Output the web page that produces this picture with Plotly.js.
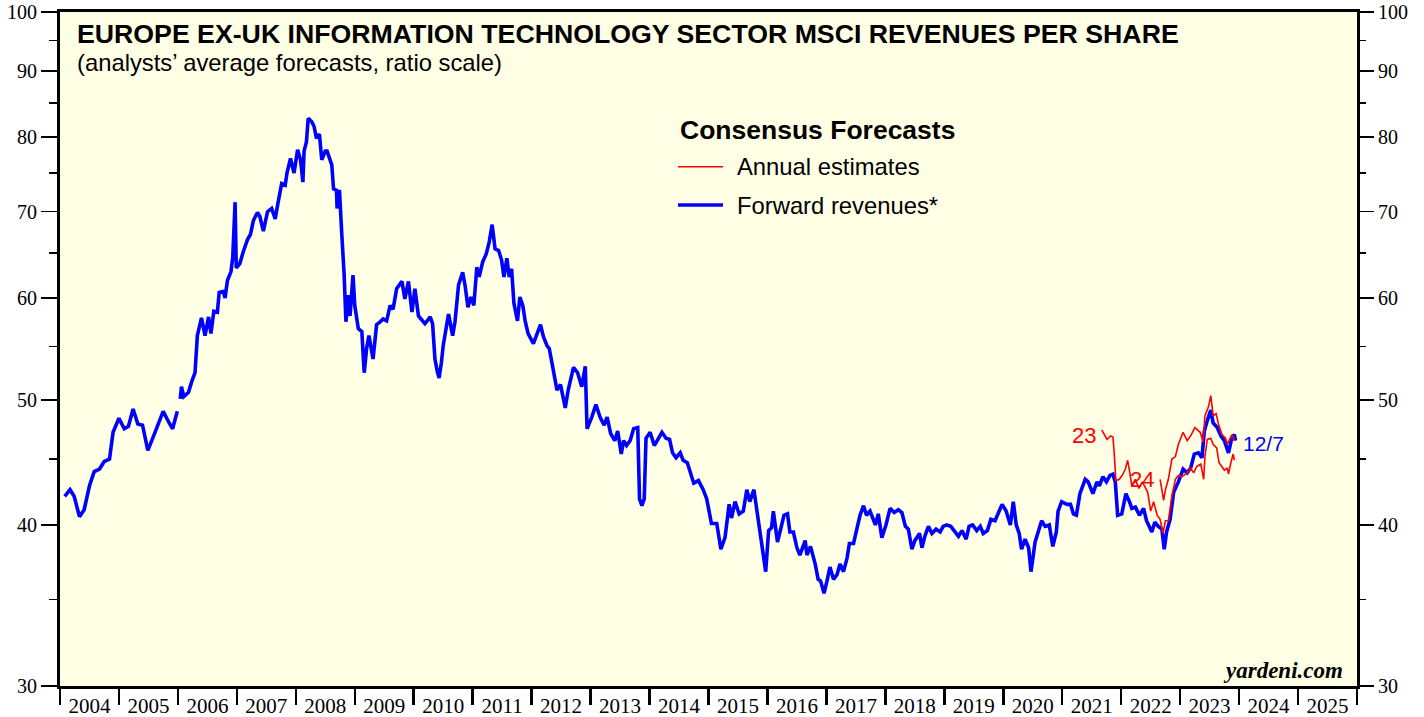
<!DOCTYPE html>
<html>
<head>
<meta charset="utf-8">
<script src="https://cdn.plot.ly/plotly-3.0.1.min.js"></script>
<style>
html,body{margin:0;padding:0;background:#fff;}
#chart{width:1424px;height:717px;}
</style>
</head>
<body>
<div id="chart"></div>
<script>
// ---- Data (decimal years, revenues per share) ----
var yearLabels = ['2004','2005','2006','2007','2008','2009','2010','2011','2012','2013','2014','2015','2016','2017','2018','2019','2020','2021','2022','2023','2024','2025'];
var yTickVals = [30,40,50,60,70,80,90,100];
var yMinorVals = [35,45,55,65,75,85,95];

var fwdYears = [
2004.08,2004.17,2004.24,2004.33,2004.41,2004.50,2004.58,2004.67,2004.75,2004.84,2004.90,
2005.00,2005.09,2005.16,2005.24,2005.32,2005.40,2005.49,2005.58,2005.75,2005.84,2005.91,2005.99,2006.01,
2006.04,2006.06,2006.10,2006.18,2006.23,2006.29,2006.33,2006.40,2006.46,2006.52,2006.56,2006.61,2006.67,2006.70,2006.77,2006.80,2006.84,2006.90,2006.93,2006.97,2006.99,
2007.05,2007.11,2007.18,2007.23,2007.28,2007.35,2007.39,2007.45,2007.52,2007.59,2007.65,2007.70,2007.76,2007.82,2007.85,2007.91,2007.97,
2008.03,2008.08,2008.12,2008.14,2008.18,2008.21,2008.27,2008.31,2008.35,2008.40,2008.44,2008.50,2008.53,2008.61,2008.64,2008.69,2008.70,2008.74,2008.78,2008.82,2008.85,2008.89,2008.92,2008.97,
2009.00,2009.06,2009.12,2009.16,2009.20,2009.24,2009.31,2009.37,2009.43,2009.48,2009.54,2009.60,2009.65,2009.71,2009.80,2009.85,2009.91,2009.97,
2010.02,2010.08,2010.19,2010.28,2010.32,2010.36,2010.40,2010.43,2010.47,2010.50,2010.59,2010.66,2010.70,2010.76,2010.83,2010.87,2010.92,2010.97,
2011.02,2011.07,2011.11,2011.17,2011.23,2011.28,2011.33,2011.38,2011.44,2011.49,2011.53,2011.58,2011.62,2011.66,2011.70,2011.76,2011.80,2011.85,2011.89,2011.94,
2012.03,2012.09,2012.15,2012.20,2012.26,2012.30,2012.37,2012.43,2012.49,2012.57,2012.62,2012.71,2012.78,2012.85,2012.91,2012.94,
2013.02,2013.09,2013.16,2013.23,2013.28,2013.34,2013.41,2013.46,2013.52,2013.56,2013.61,2013.67,2013.73,2013.80,2013.83,2013.87,2013.91,2013.94,
2014.01,2014.08,2014.13,2014.21,2014.28,2014.34,2014.39,2014.45,2014.52,2014.57,2014.64,2014.69,2014.75,2014.83,2014.91,2014.97,
2015.05,2015.14,2015.21,2015.28,2015.35,2015.39,2015.45,2015.52,2015.59,2015.65,2015.70,2015.77,2015.86,2015.92,2015.97,
2016.02,2016.07,2016.10,2016.17,2016.23,2016.28,2016.34,2016.38,2016.44,2016.50,2016.55,2016.64,2016.67,2016.73,2016.81,2016.86,2016.90,2016.96,
2017.01,2017.06,2017.12,2017.18,2017.23,2017.29,2017.35,2017.39,2017.46,2017.51,2017.57,2017.63,2017.68,2017.74,2017.83,2017.88,2017.94,
2018.01,2018.08,2018.15,2018.22,2018.28,2018.34,2018.39,2018.45,2018.50,2018.58,2018.62,2018.67,2018.73,2018.79,2018.86,2018.93,2018.98,
2019.04,2019.11,2019.17,2019.24,2019.30,2019.37,2019.42,2019.48,2019.55,2019.61,2019.66,2019.73,2019.79,2019.86,2019.92,2019.98,
2020.05,2020.12,2020.17,2020.22,2020.27,2020.31,2020.37,2020.43,2020.47,2020.54,2020.60,2020.65,2020.71,2020.78,2020.84,2020.90,2020.93,2020.99,
2021.08,2021.14,2021.19,2021.24,2021.30,2021.39,2021.44,2021.52,2021.59,2021.63,2021.69,2021.75,2021.81,2021.86,2021.90,2021.94,
2022.01,2022.08,2022.14,2022.18,2022.24,2022.31,2022.38,2022.43,2022.52,2022.57,2022.63,2022.69,2022.73,2022.77,2022.83,2022.89,2022.97,
2023.05,2023.12,2023.18,2023.24,2023.31,2023.37,2023.41,2023.46,2023.52,2023.56,2023.63,2023.69,2023.75,2023.82,2023.88,2023.92,2023.94
];
var fwdValues = [
42.1,42.6,42.1,40.6,41.1,42.9,44.0,44.2,44.8,45.0,47.2,
48.4,47.5,47.7,49.2,47.9,47.8,45.7,46.8,49.0,48.1,47.5,49.0,null,
50.1,51.2,50.3,50.7,51.6,52.5,56.1,57.9,56.1,58.0,56.3,58.6,58.5,60.6,60.7,60.0,61.9,62.9,64.5,71.2,63.3,
63.8,65.2,66.6,67.2,68.9,69.9,69.4,67.6,70.0,70.4,69.1,71.2,73.6,73.4,75.0,77.0,75.0,
78.2,76.8,73.8,78.0,79.3,82.7,82.2,81.5,79.8,80.4,76.8,78.0,78.0,76.1,72.9,72.7,70.4,72.8,67.2,62.5,57.5,60.3,58.1,62.5,
59.2,56.8,56.5,52.5,54.8,56.1,53.8,57.2,57.5,57.8,57.6,59.2,58.8,61.0,61.8,59.9,61.8,58.5,
61.0,58.1,57.3,58.0,57.3,53.8,52.6,52.0,53.5,55.1,58.3,56.1,57.5,61.4,62.8,61.4,59.0,60.1,
59.2,63.4,62.3,64.0,64.9,66.3,68.4,65.5,65.3,64.2,62.3,64.4,62.3,63.2,59.4,57.6,60.1,59.2,57.6,56.3,
55.3,56.3,57.2,56.0,55.1,54.8,52.6,50.9,51.4,49.3,50.9,53.0,52.5,51.2,53.1,47.5,
48.5,49.6,48.5,47.8,48.5,47.1,46.5,47.3,45.4,46.5,46.1,46.5,47.5,47.6,41.9,41.4,41.9,46.7,
47.2,46.1,46.5,47.2,46.7,46.6,45.5,45.1,45.5,44.9,44.7,43.9,43.1,43.3,42.6,41.9,
40.1,40.1,38.3,39.1,41.5,40.5,41.7,40.8,41.0,42.6,41.7,42.6,39.8,38.3,36.8,
39.6,39.8,41.0,38.8,39.8,40.7,40.8,39.5,39.5,38.4,37.9,38.9,37.9,38.5,37.3,36.3,36.2,35.4,
36.2,37.1,36.3,36.6,37.3,36.8,37.7,38.7,38.7,39.6,40.7,41.4,40.7,41.0,40.0,40.8,39.1,
40.0,41.2,40.9,41.1,40.9,39.9,39.7,38.3,38.9,39.4,38.4,39.2,39.9,39.4,39.7,39.5,39.9,
40.0,39.9,39.6,39.2,39.6,39.0,39.9,40.0,39.6,39.9,39.4,39.6,40.4,40.3,40.9,41.5,
41.0,40.0,41.7,40.0,39.4,38.3,39.0,38.4,36.8,38.8,39.6,40.3,39.9,40.0,38.5,39.5,41.0,41.7,
41.5,41.5,40.8,40.7,42.3,43.4,43.2,42.3,43.2,42.9,43.6,43.2,43.7,43.8,43.2,40.7,
40.8,42.3,41.7,41.2,41.3,40.7,41.2,40.3,39.5,40.2,39.9,39.7,38.3,39.5,40.4,42.4,43.2,
44.2,43.9,44.3,45.4,45.5,45.1,47.3,48.2,49.1,48.0,47.6,46.9,46.5,45.5,46.8,47.0,46.5
];

var est23Years = [2021.67,2021.71,2021.76,2021.82,2021.86,2021.88,2021.91,2021.97,2022.03,2022.07,2022.11,2022.15,2022.18,2022.24,2022.30,2022.36,2022.42,2022.45,2022.50,2022.55,2022.61,2022.66,2022.71,2022.75,2022.80,2022.86,2022.92,2022.97,2023.03,2023.12,2023.17,2023.23,2023.28,2023.35,2023.40,2023.42,2023.46,2023.52,2023.56,2023.62,2023.66,2023.75,2023.80,2023.82,2023.86,2023.90,2023.92];
var est23Values = [47.4,47.0,46.6,46.9,46.8,45.6,43.3,43.4,43.8,44.2,44.9,43.8,42.9,43.4,42.7,43.2,42.7,42.4,41.0,41.7,40.7,40.4,39.4,40.3,40.3,42.1,43.4,43.7,43.6,43.9,44.3,43.9,44.4,44.6,43.4,45.2,46.6,46.7,46.2,45.9,44.7,44.1,44.3,43.8,44.7,45.4,44.9];

var est24Years = [2022.66,2022.72,2022.75,2022.80,2022.86,2022.92,2022.97,2023.05,2023.12,2023.19,2023.25,2023.34,2023.39,2023.42,2023.48,2023.52,2023.56,2023.61,2023.65,2023.71,2023.77,2023.80,2023.84,2023.88,2023.92];
var est24Values = [43.4,41.8,42.6,43.4,45.0,45.2,46.2,47.2,46.5,47.0,47.6,47.2,46.4,48.6,49.4,50.4,48.6,48.8,47.9,47.0,46.7,46.2,46.6,47.0,46.5];

// ---- Chart ----
var labelYears = yearLabels.map(function(s){ return parseInt(s,10) + 0.5; });
var boundaryYears = yearLabels.map(function(s){ return parseInt(s,10); }).concat([2026]);
var xRange = [2004, 2026];
var yRange = [Math.log10(30), 2];
var serif = 'Liberation Serif, Times New Roman, serif';
var sans = 'Liberation Sans, Arial, sans-serif';

var traces = [
  {x: fwdYears, y: fwdValues, type: 'scatter', mode: 'lines', xaxis: 'x', yaxis: 'y',
   line: {color: '#0000FF', width: 3.6}, hoverinfo: 'skip', showlegend: false, connectgaps: false},
  {x: est23Years, y: est23Values, type: 'scatter', mode: 'lines', xaxis: 'x2', yaxis: 'y2',
   line: {color: '#FF0000', width: 1.6}, hoverinfo: 'skip', showlegend: false},
  {x: est24Years, y: est24Values, type: 'scatter', mode: 'lines', xaxis: 'x2', yaxis: 'y2',
   line: {color: '#FF0000', width: 1.6}, hoverinfo: 'skip', showlegend: false}
];

var yCommon = {
  type: 'log', range: yRange, tickmode: 'array', tickvals: yTickVals,
  ticktext: yTickVals.map(String), ticks: 'outside', ticklen: 16, tickwidth: 1.5, tickcolor: '#000',
  minor: {tickmode: 'array', tickvals: yMinorVals, ticks: 'outside', ticklen: 8, tickwidth: 1.5, tickcolor: '#000', showgrid: false},
  showgrid: false, zeroline: false, fixedrange: true,
  tickfont: {family: serif, size: 20, color: '#000'}
};

var layout = {
  width: 1424, height: 717,
  margin: {l: 60, r: 67, t: 12, b: 31},
  paper_bgcolor: '#FFFFFF',
  plot_bgcolor: '#FFFFE6',
  showlegend: false,
  xaxis: {
    range: xRange, tickmode: 'array', tickvals: boundaryYears, showticklabels: false,
    ticks: 'outside', ticklen: 16, tickwidth: 2.5, tickcolor: '#000',
    showline: true, linewidth: 3, linecolor: '#000', mirror: true,
    showgrid: false, zeroline: false, fixedrange: true
  },
  xaxis2: {
    overlaying: 'x', anchor: 'y', side: 'bottom', range: xRange,
    tickmode: 'array', tickvals: labelYears, ticktext: yearLabels,
    ticks: 'outside', ticklen: 1, tickcolor: 'rgba(0,0,0,0)',
    showline: false, showgrid: false, zeroline: false, fixedrange: true,
    tickfont: {family: serif, size: 21, color: '#000'}
  },
  yaxis: Object.assign({}, yCommon, {
    side: 'left', showline: true, linewidth: 3, linecolor: '#000', mirror: true
  }),
  yaxis2: Object.assign({}, yCommon, {
    overlaying: 'y', anchor: 'x2', side: 'right', showline: false
  }),
  shapes: [
    {type: 'line', xref: 'paper', yref: 'paper', x0: 0.4765, x1: 0.5112, y0: 0.7705, y1: 0.7705,
     line: {color: '#FF0000', width: 1.6}},
    {type: 'line', xref: 'paper', yref: 'paper', x0: 0.4765, x1: 0.5112, y0: 0.7136, y1: 0.7136,
     line: {color: '#0000FF', width: 3.6}}
  ],
  annotations: [
    {xref: 'paper', yref: 'paper', x: 0.0116, y: 0.9674, xanchor: 'left', yanchor: 'middle', showarrow: false,
     text: '<b>EUROPE EX-UK INFORMATION TECHNOLOGY SECTOR MSCI REVENUES PER SHARE</b>',
     font: {family: sans, size: 26.7, color: '#000'}},
    {xref: 'paper', yref: 'paper', x: 0.0116, y: 0.9258, xanchor: 'left', yanchor: 'middle', showarrow: false,
     text: '(analysts\u2019 average forecasts, ratio scale)',
     font: {family: sans, size: 23.8, color: '#000'}},
    {xref: 'paper', yref: 'paper', x: 0.4765, y: 0.8249, xanchor: 'left', yanchor: 'middle', showarrow: false,
     text: '<b>Consensus Forecasts</b>', font: {family: sans, size: 26.5, color: '#000'}},
    {xref: 'paper', yref: 'paper', x: 0.5204, y: 0.7705, xanchor: 'left', yanchor: 'middle', showarrow: false,
     text: 'Annual estimates', font: {family: sans, size: 23.8, color: '#000'}},
    {xref: 'paper', yref: 'paper', x: 0.5204, y: 0.7136, xanchor: 'left', yanchor: 'middle', showarrow: false,
     text: 'Forward revenues*', font: {family: sans, size: 23.8, color: '#000'}},
    {xref: 'paper', yref: 'paper', x: 0.9907, y: 0.0237, xanchor: 'right', yanchor: 'middle', showarrow: false,
     text: '<b><i>yardeni.com</i></b>', font: {family: serif, size: 23, color: '#000'}},
    {xref: 'x', yref: 'y', x: 2021.6, y: Math.log10(46.9), xanchor: 'right', yanchor: 'middle', showarrow: false,
     text: '23', font: {family: sans, size: 22, color: '#FF0000'}},
    {xref: 'x', yref: 'y', x: 2022.36, y: Math.log10(43.4), xanchor: 'center', yanchor: 'middle', showarrow: false,
     text: '24', font: {family: sans, size: 22, color: '#FF0000'}},
    {xref: 'x', yref: 'y', x: 2024.03, y: Math.log10(46.3), xanchor: 'left', yanchor: 'middle', showarrow: false,
     text: '12/7', font: {family: sans, size: 21, color: '#0000FF'}}
  ]
};

Plotly.newPlot('chart', traces, layout, {displayModeBar: false, staticPlot: true});
</script>
</body>
</html>
